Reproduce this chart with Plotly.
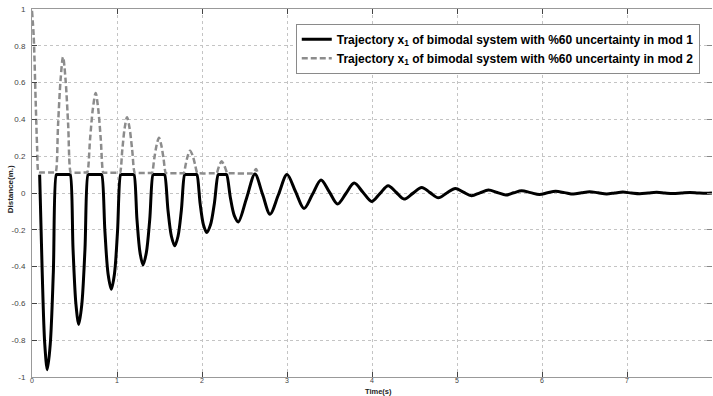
import plotly.graph_objects as go

# ---- data ----
t_mod1 = [0.09, 0.12, 0.15, 0.18, 0.215, 0.251, 0.286, 0.296, 0.44,
          0.45, 0.483, 0.517, 0.55, 0.586, 0.623, 0.659, 0.669, 0.81,
          0.82, 0.858, 0.895, 0.933, 0.97, 1.006, 1.043, 1.053, 1.19,
          1.20, 1.235, 1.271, 1.306, 1.345, 1.385, 1.424, 1.434, 1.55,
          1.56, 1.60, 1.64, 1.679, 1.718, 1.757, 1.796, 1.806, 1.93,
          1.94, 1.978, 2.017, 2.055, 2.10, 2.145, 2.19, 2.20, 2.28,
          2.29, 2.335, 2.38, 2.427, 2.525, 2.623, 2.712, 2.80, 2.90,
          3.00, 3.10, 3.20, 3.30, 3.40, 3.498, 3.595, 3.693, 3.79,
          3.893, 3.996, 4.093, 4.19, 4.283, 4.376, 4.48, 4.585, 4.683,
          4.78, 4.88, 4.98, 5.075, 5.17, 5.27, 5.37, 5.473, 5.575,
          5.668, 5.76, 5.865, 5.97, 6.065, 6.16, 6.265, 6.37, 6.465,
          6.56, 6.66, 6.76, 6.855, 6.95, 7.05, 7.15, 7.25, 7.35,
          7.445, 7.54, 7.64, 7.74, 7.835, 7.93, 8.0]
x1_mod1 = [0.1, -0.43, -0.82, -0.96, -0.82, -0.43, 0.1, 0.1, 0.1,
           0.1, -0.307, -0.605, -0.714, -0.605, -0.307, 0.1, 0.1, 0.1,
           0.1, -0.21, -0.44, -0.523, -0.44, -0.21, 0.1, 0.1, 0.1,
           0.1, -0.145, -0.325, -0.391, -0.325, -0.145, 0.1, 0.1, 0.1,
           0.1, -0.094, -0.235, -0.287, -0.235, -0.094, 0.1, 0.1, 0.1,
           0.1, -0.058, -0.173, -0.215, -0.173, -0.058, 0.1, 0.1, 0.1,
           0.1, -0.029, -0.123, -0.157, -0.027, 0.103, -0.006, -0.115, -0.008,
           0.100, 0.008, -0.084, -0.007, 0.071, 0.006, -0.060, -0.003, 0.054,
           0.004, -0.046, -0.003, 0.040, 0.004, -0.033, -0.002, 0.030, 0.002,
           -0.026, 0.000, 0.025, 0.005, -0.015, 0.001, 0.016, 0.003, -0.011,
           0.001, 0.012, 0.002, -0.008, 0.001, 0.009, 0.002, -0.006, 0.001,
           0.007, 0.001, -0.005, 0.000, 0.005, 0.000, -0.004, 0.000, 0.004,
           0.000, -0.003, 0.000, 0.003, 0.000, -0.002, 0.0]

t_mod2 = [0, 0.02, 0.043, 0.06, 0.075, 0.085, 0.268,
          0.278, 0.307, 0.336, 0.365, 0.395, 0.425, 0.455, 0.465, 0.64,
          0.65, 0.683, 0.716, 0.749, 0.779, 0.809, 0.839, 0.849, 1.025,
          1.035, 1.063, 1.09, 1.118, 1.148, 1.178, 1.208, 1.218, 1.402,
          1.412, 1.439, 1.467, 1.494, 1.52, 1.547, 1.573, 1.583, 1.775,
          1.785, 1.81, 1.835, 1.86, 1.888, 1.916, 1.945, 1.955, 2.163,
          2.173, 2.192, 2.212, 2.231, 2.253, 2.275, 2.298, 2.308, 2.59,
          2.60, 2.618, 2.635, 2.648, 2.66]
x1_mod2 = [0.99, 0.85, 0.5, 0.25, 0.115, 0.112, 0.112,
           0.112, 0.375, 0.614, 0.739, 0.614, 0.375, 0.112, 0.111, 0.111,
           0.111, 0.292, 0.457, 0.543, 0.457, 0.292, 0.111, 0.110, 0.110,
           0.110, 0.237, 0.352, 0.412, 0.352, 0.237, 0.110, 0.109, 0.109,
           0.109, 0.189, 0.262, 0.300, 0.262, 0.189, 0.109, 0.108, 0.108,
           0.108, 0.159, 0.206, 0.230, 0.206, 0.159, 0.108, 0.107, 0.107,
           0.107, 0.134, 0.159, 0.172, 0.159, 0.134, 0.107, 0.107, 0.106,
           0.106, 0.120, 0.131, 0.120, 0.105]

x_ticks = [0, 1, 2, 3, 4, 5, 6, 7, 8]
y_ticks = [-1, -0.8, -0.6, -0.4, -0.2, 0, 0.2, 0.4, 0.6, 0.8, 1]
y_tick_text = ["-1", "-0.8", "-0.6", "-0.4", "-0.2", "0", "0.2", "0.4", "0.6", "0.8", "1"]

name1 = "Trajectory x<sub>1</sub> of bimodal system with %60 uncertainty in mod 1"
name2 = "Trajectory x<sub>1</sub> of bimodal system with %60 uncertainty in mod 2"

fig = go.Figure()
fig.add_trace(go.Scatter(x=t_mod1, y=x1_mod1, mode="lines", name=name1,
                         line=dict(color="black", width=3, shape="spline", smoothing=0.9)))
fig.add_trace(go.Scatter(x=t_mod2, y=x1_mod2, mode="lines", name=name2,
                         line=dict(color="#8c8c8c", width=2.5, dash="6px,3px",
                                   shape="spline", smoothing=0.9)))
fig.add_trace(go.Scatter(x=[], y=[], yaxis="y2", showlegend=False, hoverinfo="skip"))

tickfont = dict(family="Liberation Sans, Arial, sans-serif", size=8, color="#444")

fig.update_layout(
    width=713, height=396,
    margin=dict(l=32, r=1, t=9, b=19),
    paper_bgcolor="white", plot_bgcolor="white",
    showlegend=True,
    legend=dict(x=0.982, y=0.96, xanchor="right", yanchor="top",
                bgcolor="white", bordercolor="#8a8a8a", borderwidth=1,
                font=dict(family="Liberation Sans, Arial, sans-serif", size=12,
                          color="black", weight="bold"),
                tracegroupgap=0, itemwidth=30),
    xaxis=dict(range=[0, 8], tickvals=x_ticks, ticks="inside", ticklen=5,
               tickcolor="#444", showline=True, linecolor="#999", linewidth=1,
               mirror="ticks", showgrid=True, gridcolor="#c4c4c4", griddash="dot",
               gridwidth=1, zeroline=False,
               tickfont=dict(family="Liberation Sans, Arial, sans-serif", size=7, color="#444"),
               ticklabelstandoff=-3),
    yaxis=dict(range=[-1, 1], tickvals=y_ticks, ticktext=y_tick_text, ticks="inside",
               ticklen=5, tickcolor="#444", showline=True, linecolor="#999",
               linewidth=1, mirror=False, showgrid=True, gridcolor="#c4c4c4",
               griddash="dot", gridwidth=1, zeroline=False, tickfont=tickfont,
               ticklabelstandoff=4),
    yaxis2=dict(range=[-1, 1], tickvals=y_ticks, overlaying="y", side="right",
                anchor="x", ticks="inside", ticklen=5, tickcolor="#888",
                showticklabels=False, showgrid=False, showline=False, zeroline=False),
    annotations=[
        dict(text="<b>Time(s)</b>", x=0.509, y=0, xref="paper", yref="paper",
             xanchor="center", yanchor="middle", yshift=-14.5, showarrow=False,
             font=dict(family="Liberation Sans, Arial, sans-serif", size=7.5, color="#222")),
        dict(text="<b>Distance(m.)</b>", x=0, y=0.51, xref="paper", yref="paper",
             xanchor="center", yanchor="middle", xshift=-22, textangle=-90,
             showarrow=False,
             font=dict(family="Liberation Sans, Arial, sans-serif", size=8, color="#222")),
    ],
)

fig.write_html("out.html", config={"displayModeBar": False},
               post_script="document.body.style.margin='0';document.body.style.overflow='hidden';")
